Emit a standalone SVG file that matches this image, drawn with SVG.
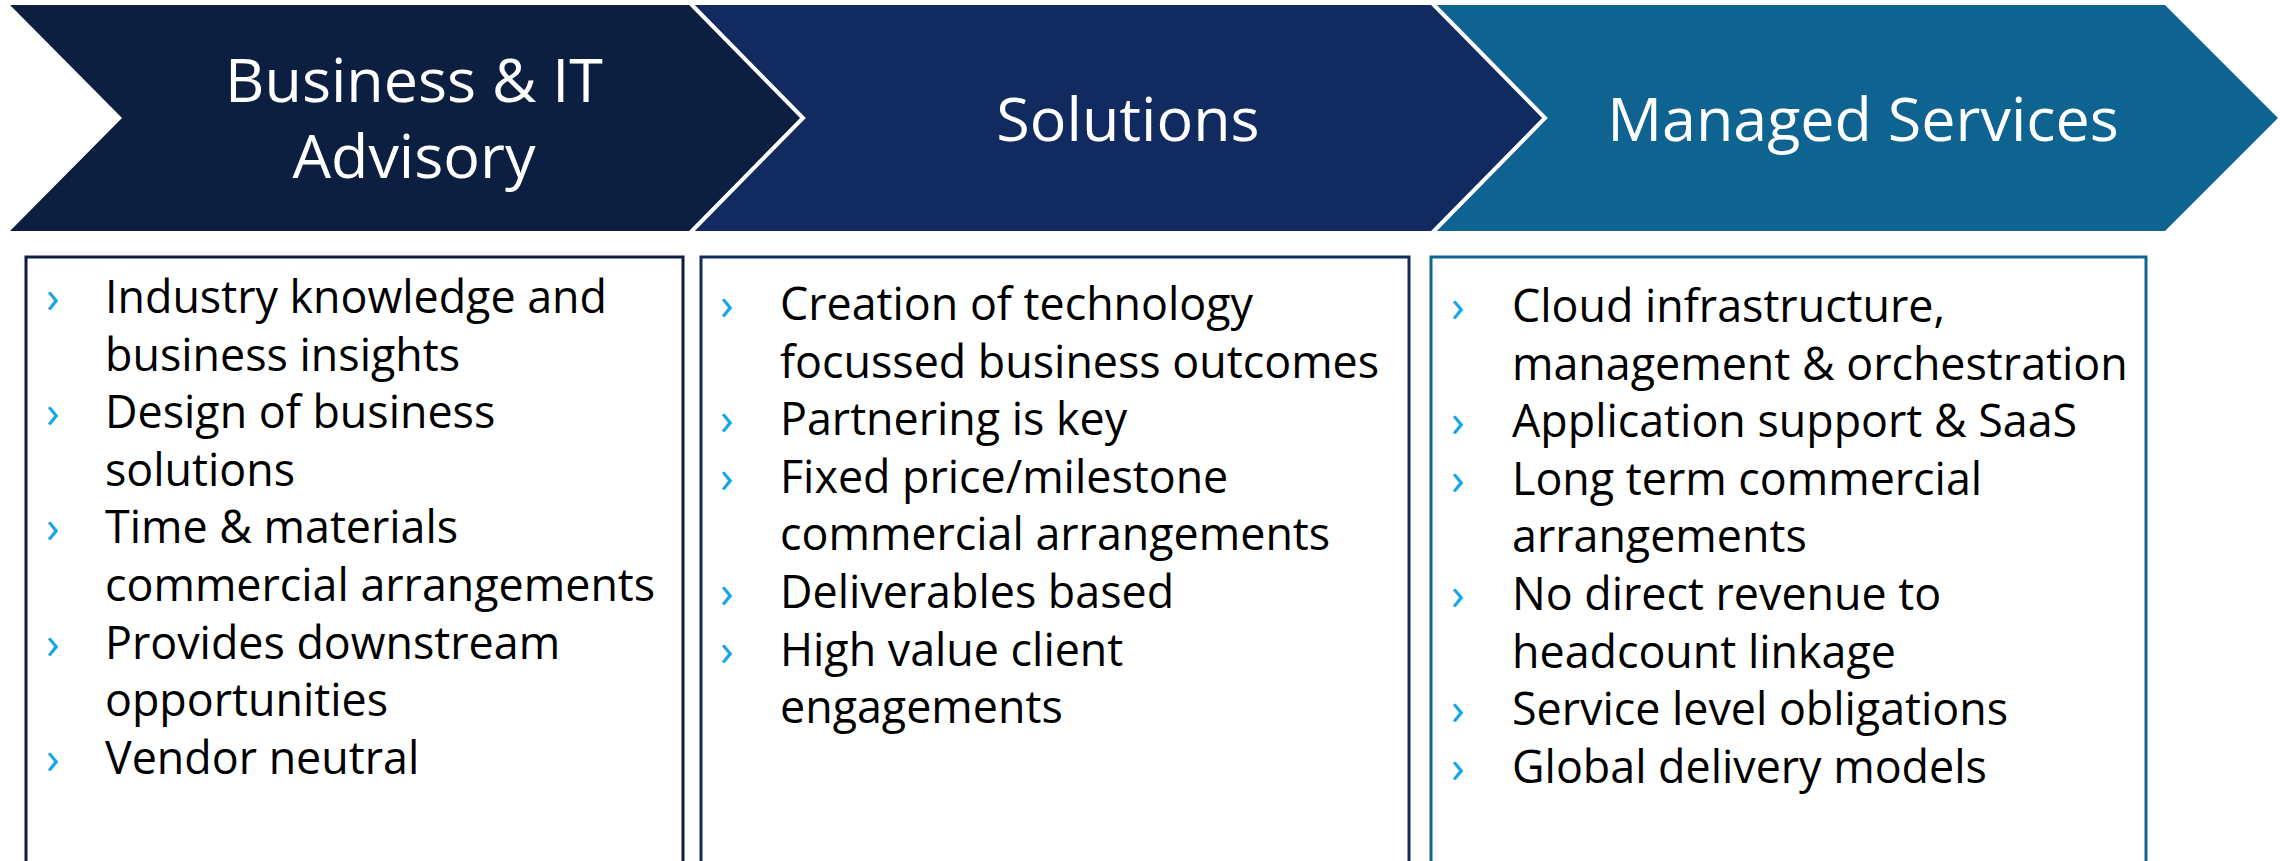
<svg xmlns="http://www.w3.org/2000/svg" width="2280" height="861" viewBox="0 0 2280 861">
  <style>
    .head { font-family: "Open Sans", "Noto Sans", "DejaVu Sans", sans-serif; font-size: 61px; font-weight: 400; fill: #ffffff; text-anchor: middle; }
    .body { font-family: "Open Sans", "Noto Sans", "DejaVu Sans", sans-serif; font-size: 44.8px; fill: #000000; }
    .bul { font-family: "Open Sans", "Noto Sans", "DejaVu Sans", sans-serif; font-size: 45px; fill: #14a6e6; }
    .box { fill: #ffffff; stroke-width: 3; }
    .sep { fill: none; stroke: #ffffff; stroke-width: 4; stroke-linejoin: miter; }
  </style>

  <rect x="0" y="0" width="2280" height="861" fill="#ffffff"/>

  <!-- Stage 1: Business & IT Advisory -->
  <g id="stage-advisory">
    <polygon points="10,5 690,5 803,118 690,231 10,231 122,118" fill="#0c1f40"/>
    <text class="head" x="414" y="102">Business &amp; IT</text>
    <text class="head" x="414" y="178">Advisory</text>
  </g>

  <!-- Stage 2: Solutions -->
  <g id="stage-solutions">
    <polygon points="690,5 1432,5 1545,118 1432,231 690,231 803,118" fill="#112b60"/>
    <text class="head" x="1128" y="141">Solutions</text>
  </g>

  <!-- Stage 3: Managed Services -->
  <g id="stage-managed">
    <polygon points="1432,5 2165,5 2278,118 2165,231 1432,231 1545,118" fill="#0e6390"/>
    <text class="head" x="1863" y="141">Managed Services</text>
  </g>

  <!-- white seams between the chevrons -->
  <g id="connectors">
    <polyline class="sep" points="690,3 803,118 690,233"/>
    <polyline class="sep" points="1432,3 1545,118 1432,233"/>
  </g>

  <!-- Advisory details -->
  <g id="list-advisory">
    <rect class="box" x="26" y="257" width="657" height="700" stroke="#0c1f40"/>
    <text class="bul" x="46" y="313">›</text>
    <text class="body" x="105" y="313">Industry knowledge and</text>
    <text class="body" x="105" y="370.6">business insights</text>
    <text class="bul" x="46" y="428.2">›</text>
    <text class="body" x="105" y="428.2">Design of business</text>
    <text class="body" x="105" y="485.8">solutions</text>
    <text class="bul" x="46" y="543.4">›</text>
    <text class="body" x="105" y="543.4">Time &amp; materials</text>
    <text class="body" x="105" y="601">commercial arrangements</text>
    <text class="bul" x="46" y="658.6">›</text>
    <text class="body" x="105" y="658.6">Provides downstream</text>
    <text class="body" x="105" y="716.2">opportunities</text>
    <text class="bul" x="46" y="773.8">›</text>
    <text class="body" x="105" y="773.8">Vendor neutral</text>
  </g>

  <!-- Solutions details -->
  <g id="list-solutions">
    <rect class="box" x="701" y="257" width="708" height="700" stroke="#122c61"/>
    <text class="bul" x="720" y="320">›</text>
    <text class="body" x="780" y="320">Creation of technology</text>
    <text class="body" x="780" y="377.6">focussed business outcomes</text>
    <text class="bul" x="720" y="435.2">›</text>
    <text class="body" x="780" y="435.2">Partnering is key</text>
    <text class="bul" x="720" y="492.8">›</text>
    <text class="body" x="780" y="492.8">Fixed price/milestone</text>
    <text class="body" x="780" y="550.4">commercial arrangements</text>
    <text class="bul" x="720" y="608">›</text>
    <text class="body" x="780" y="608">Deliverables based</text>
    <text class="bul" x="720" y="665.6">›</text>
    <text class="body" x="780" y="665.6">High value client</text>
    <text class="body" x="780" y="723.2">engagements</text>
  </g>

  <!-- Managed Services details -->
  <g id="list-managed">
    <rect class="box" x="1431" y="257" width="715" height="700" stroke="#0f6592"/>
    <text class="bul" x="1451" y="322">›</text>
    <text class="body" x="1512" y="322">Cloud infrastructure,</text>
    <text class="body" x="1512" y="379.6">management &amp; orchestration</text>
    <text class="bul" x="1451" y="437.2">›</text>
    <text class="body" x="1512" y="437.2">Application support &amp; SaaS</text>
    <text class="bul" x="1451" y="494.8">›</text>
    <text class="body" x="1512" y="494.8">Long term commercial</text>
    <text class="body" x="1512" y="552.4">arrangements</text>
    <text class="bul" x="1451" y="610">›</text>
    <text class="body" x="1512" y="610">No direct revenue to</text>
    <text class="body" x="1512" y="667.6">headcount linkage</text>
    <text class="bul" x="1451" y="725.2">›</text>
    <text class="body" x="1512" y="725.2">Service level obligations</text>
    <text class="bul" x="1451" y="782.8">›</text>
    <text class="body" x="1512" y="782.8">Global delivery models</text>
  </g>
</svg>
